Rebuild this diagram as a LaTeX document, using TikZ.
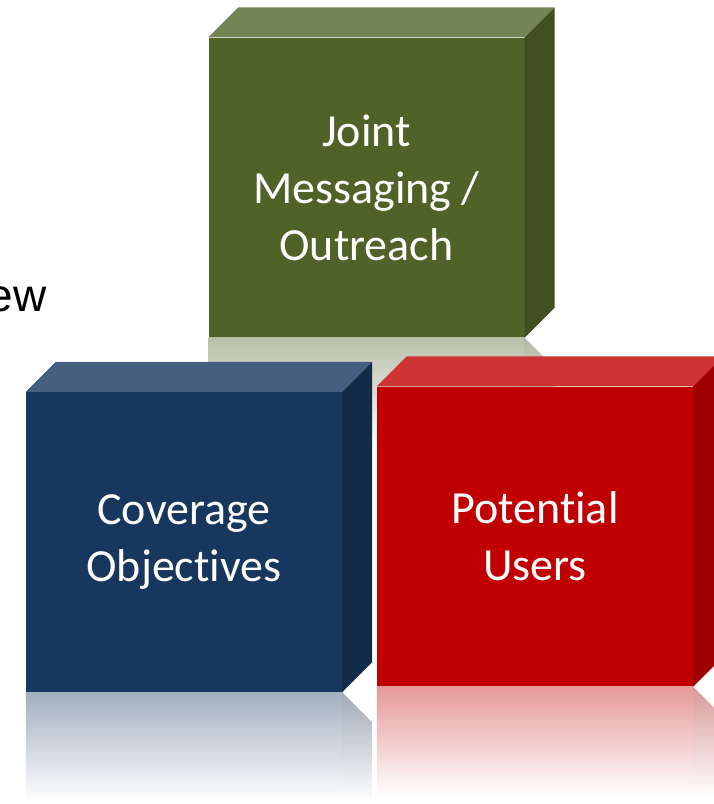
\documentclass[tikz,border=0pt]{standalone}
\usepackage{fontspec}
\setmainfont{Carlito}[Ligatures=NoCommon]
\newfontfamily\titlefont{Liberation Sans}
\usetikzlibrary{calc}

\definecolor{grnfront}{HTML}{4F6228}
\definecolor{grntop}{HTML}{738454}
\definecolor{grnside}{HTML}{3F4F20}
\definecolor{blufront}{HTML}{17375E}
\definecolor{blutop}{HTML}{455F81}
\definecolor{bluside}{HTML}{122B49}
\definecolor{redfront}{HTML}{C00000}
\definecolor{redtop}{HTML}{CD3333}
\definecolor{redside}{HTML}{9E0000}

\tikzset{
  frontface/.style={minimum width=316pt, minimum height=300pt, inner sep=0pt,
    text=white, align=center, font=\fontsize{46}{57}\selectfont},
}

\begin{document}
\begin{tikzpicture}[x=1pt,y=-1pt]
\useasboundingbox (0,0) rectangle (714,804);
\fill[white] (0,0) rectangle (714,804);
\node[anchor=base east, inner sep=0pt, font=\titlefont\fontsize{46}{46}\selectfont] (title) at (47,311) {ew};
\foreach \name/\cx/\cy/\c/\txt in {
  joint/366.5/187.5/grn/{Joint\\Messaging /\\Outreach},
  coverage/184/542/blu/{Coverage\\Objectives},
  users/535/536.5/red/{Potential\\Users}} {
 \node[frontface, fill=\c front] (\name) at (\cx,\cy) {\txt};
 % top and side of the block
 \fill[\c top] (\name.north west) -- ++(30,-30) -- ($(\name.north east)+(30,-30)$) -- (\name.north east) -- cycle;
 \fill[\c side] (\name.north east) -- ++(30,-30) -- ($(\name.south east)+(30,-30)$) -- (\name.south east) -- cycle;
 % reflection
 \shade[top color=\c front!40!white, bottom color=white] (\name.south west) rectangle ($(\name.south east)+(0,110)$);
 \shade[top color=\c side!40!white, bottom color=white] (\name.south east) -- ++(30,30) -- ++(0,80) -- ($(\name.south east)+(0,110)$) -- cycle;
}
\end{tikzpicture}
\end{document}
